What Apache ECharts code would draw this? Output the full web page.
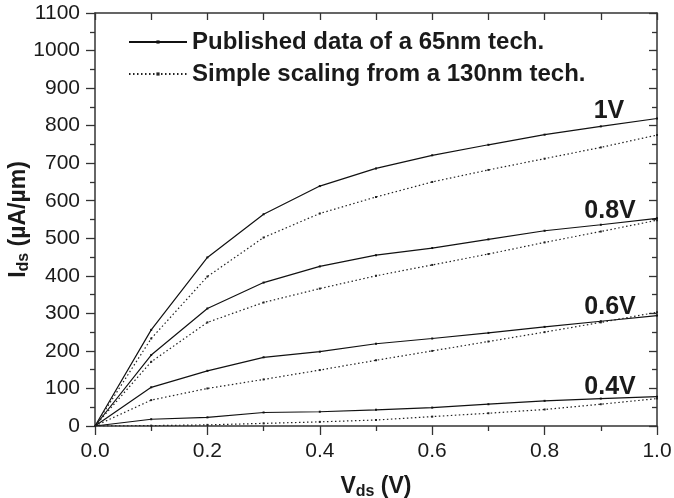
<!DOCTYPE html>
<html lang="en">
<head>
  <meta charset="utf-8">
  <title>Ids vs Vds</title>
  <script src="https://cdn.jsdelivr.net/npm/echarts@6/dist/echarts.min.js"></script>
  <style>
    html, body { margin: 0; padding: 0; background: #fff; }
    #main { width: 674px; height: 498px; }
  </style>
</head>
<body>
  <div id="main"></div>
  <script type="text/javascript">
// Vds sweep (V)
var vds = [0, 0.1, 0.2, 0.3, 0.4, 0.5, 0.6, 0.7, 0.8, 0.9, 1.0];
// gate voltages
var vgsNames = ['1V', '0.8V', '0.6V', '0.4V'];
// published 65nm data, uA/um
var pub_1v  = [0, 256, 449, 564, 639, 686, 721, 749, 776, 798, 819];
var pub_08v = [0, 189, 313, 382, 425, 455, 474, 497, 520, 536, 553];
var pub_06v = [0, 103, 147, 183, 198, 219, 233, 248, 264, 279, 294];
var pub_04v = [0, 18, 23, 36, 38, 43, 49, 58, 67, 73, 78];
// simple scaling from 130nm, uA/um
var scl_1v  = [0, 233, 398, 502, 566, 610, 650, 682, 712, 742, 775];
var scl_08v = [0, 171, 276, 329, 366, 400, 429, 458, 489, 518, 548];
var scl_06v = [0, 69, 100, 124, 149, 175, 200, 225, 250, 276, 303];
var scl_04v = [0, 1, 3, 7, 11, 16, 25, 34, 44, 58, 73];
// axis ticks
var xTicks = [0, 0.2, 0.4, 0.6, 0.8, 1.0];
var yTicks = [0, 100, 200, 300, 400, 500, 600, 700, 800, 900, 1000, 1100];

var pubName = 'Published data of a 65nm tech.';
var sclName = 'Simple scaling from a 130nm tech.';
var font = '"Liberation Sans", Arial, Helvetica, sans-serif';

var pubSets = [pub_1v, pub_08v, pub_06v, pub_04v];
var sclSets = [scl_1v, scl_08v, scl_06v, scl_04v];
var labelPos = [[-47, -6], [-46, -6], [-46, -8], [-46, -9]];

function pairs(ys, label, pos) {
  var out = [];
  for (var i = 0; i < vds.length; i++) {
    if (label && i == vds.length - 1) {
      out.push({
        value: [vds[i], ys[i]],
        label: {
          show: true, formatter: label, position: pos,
          align: 'center', verticalAlign: 'middle',
          fontFamily: font, fontWeight: 'bold', fontSize: 25, color: '#1a1a1a'
        }
      });
    } else {
      out.push([vds[i], ys[i]]);
    }
  }
  return out;
}

var series = [];
for (var k = 0; k < 4; k++) {
  series.push({
    name: pubName, type: 'line', data: pairs(pubSets[k], vgsNames[k], labelPos[k]),
    symbol: 'rect', symbolSize: 2, showSymbol: true,
    lineStyle: { color: '#111', width: 1.2, type: 'solid' },
    itemStyle: { color: '#111' },
    emphasis: { disabled: true }, silent: true, animation: false
  });
  series.push({
    name: sclName, type: 'line', data: pairs(sclSets[k]),
    symbol: 'rect', symbolSize: 2, showSymbol: true,
    lineStyle: { color: '#222', width: 1.2, type: [1.5, 2.5] },
    itemStyle: { color: '#222' },
    emphasis: { disabled: true }, silent: true, animation: false
  });
}

var axisCol = '#333';
var chart = echarts.init(document.getElementById('main'));
var option = {
  backgroundColor: '#fff',
  animation: false,
  grid: { left: 95, right: 17, top: 13, bottom: 72, containLabel: false, outerBoundsMode: 'none' },
  legend: {
    orient: 'vertical', left: 123, top: 25, itemGap: 8,
    itemWidth: 58, itemHeight: 4,
    data: [pubName, sclName],
    textStyle: { fontFamily: font, fontWeight: 'bold', fontSize: 24, color: '#1a1a1a', lineHeight: 24 }
  },
  xAxis: [{
    type: 'value', min: 0, max: 1.0, interval: 0.2, position: 'bottom',
    name: '{v|V}{s|ds}{v| (V)}', nameLocation: 'middle', nameGap: 48, nameMoveOverlap: false,
    nameTextStyle: {
      rich: {
        v: { fontFamily: font, fontWeight: 'bold', fontSize: 23, color: '#1a1a1a' },
        s: { fontFamily: font, fontWeight: 'bold', fontSize: 16, color: '#1a1a1a', verticalAlign: 'bottom', padding: [10, 0, 0, 0] }
      }
    },
    axisLine: { lineStyle: { color: axisCol, width: 1.5 } },
    axisTick: { inside: false, length: 9, lineStyle: { color: axisCol, width: 1.3 } },
    minorTick: { show: true, splitNumber: 2, length: 5, lineStyle: { color: axisCol, width: 1.3 } },
    splitLine: { show: false },
    axisLabel: {
      margin: 15, fontFamily: font, fontSize: 21, color: '#1a1a1a',
      formatter: function (v) { return v.toFixed(1); }
    }
  }, {
    type: 'value', min: 0, max: 1.0, interval: 0.1, position: 'top',
    axisLine: { onZero: false, lineStyle: { color: axisCol, width: 1.5 } },
    axisTick: { inside: true, length: 7, lineStyle: { color: axisCol, width: 1.3 } },
    splitLine: { show: false },
    axisLabel: { show: false }
  }],
  yAxis: [{
    type: 'value', min: 0, max: 1100, interval: 100, position: 'left',
    name: '{v|I}{s|ds}{v| (µA/µm)}', nameLocation: 'middle', nameGap: 63, nameRotate: 90,
    nameMoveOverlap: false,
    nameTextStyle: {
      rich: {
        v: { fontFamily: font, fontWeight: 'bold', fontSize: 23, color: '#1a1a1a' },
        s: { fontFamily: font, fontWeight: 'bold', fontSize: 16, color: '#1a1a1a', verticalAlign: 'bottom', padding: [10, 0, 0, 0] }
      }
    },
    axisLine: { lineStyle: { color: axisCol, width: 1.5 } },
    axisTick: { inside: false, length: 9, lineStyle: { color: axisCol, width: 1.3 } },
    minorTick: { show: true, splitNumber: 2, length: 5, lineStyle: { color: axisCol, width: 1.3 } },
    splitLine: { show: false },
    axisLabel: {
      margin: 15, fontFamily: font, fontSize: 21, color: '#1a1a1a',
      formatter: function (v) { return String(v); }
    }
  }, {
    type: 'value', min: 0, max: 1100, interval: 100, position: 'right',
    axisLine: { onZero: false, lineStyle: { color: axisCol, width: 1.5 } },
    axisTick: { inside: true, length: 8, lineStyle: { color: axisCol, width: 1.3 } },
    minorTick: { show: true, splitNumber: 2, length: 5, lineStyle: { color: axisCol, width: 1.3 } },
    splitLine: { show: false },
    axisLabel: { show: false }
  }],
  series: series
};
chart.setOption(option);
  </script>
</body>
</html>
